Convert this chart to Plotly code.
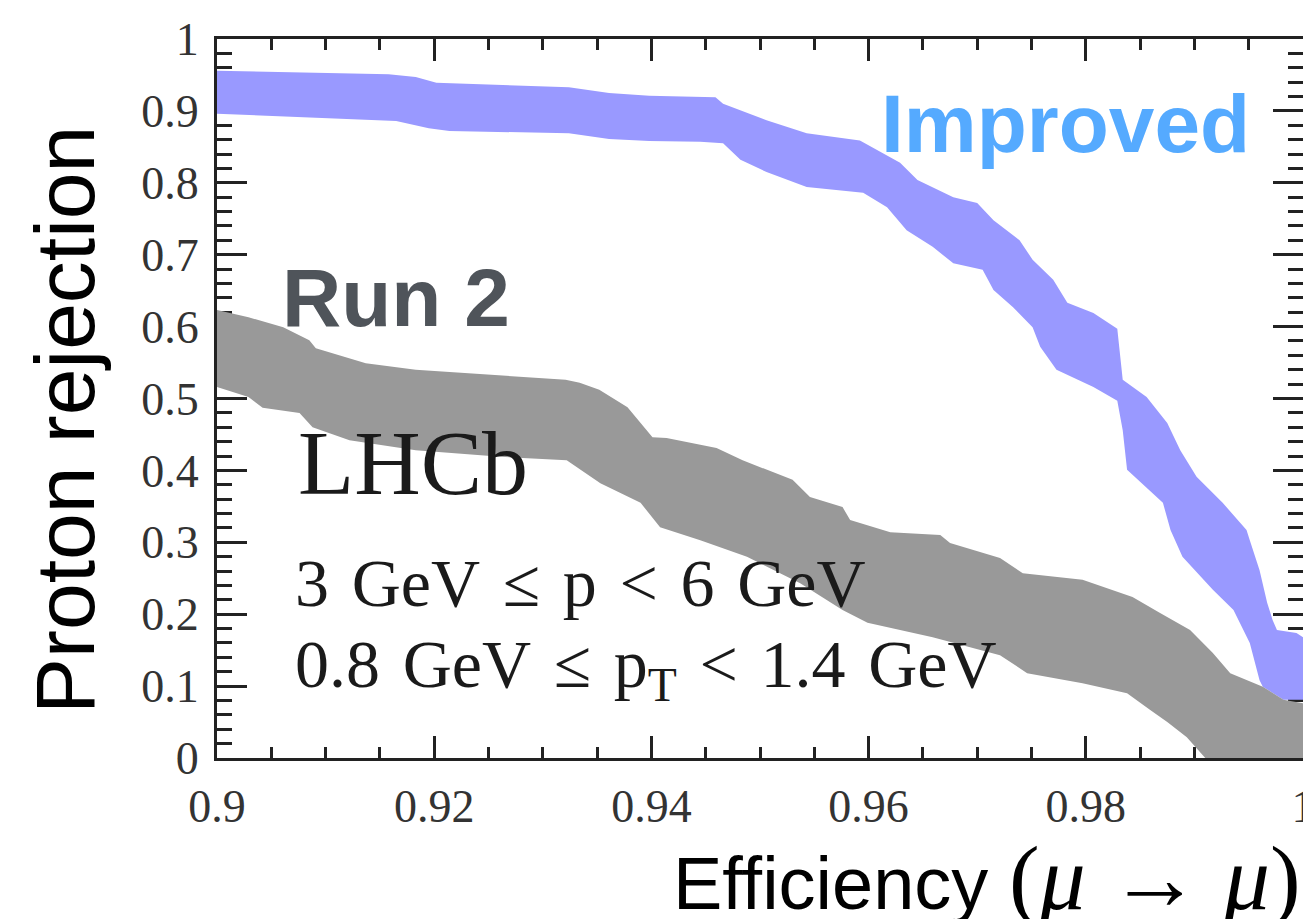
import plotly.graph_objects as go

# ---------------- data ----------------
improved_upper_x = [0.9000, 0.9158, 0.9183, 0.9202, 0.9324, 0.9361, 0.9398, 0.9459, 0.9466, 0.9475,
                    0.9506, 0.9543, 0.9592, 0.9629, 0.9645, 0.9678, 0.9700, 0.9715, 0.9739, 0.9751,
                    0.9770, 0.9783, 0.9807, 0.9829, 0.9834, 0.9856, 0.9875, 0.9887, 0.9902, 0.9926,
                    0.9948, 0.9951, 0.9960, 0.9967, 0.9972, 0.9976, 0.9994, 1.0000]
improved_upper_y = [0.956, 0.951, 0.947, 0.939, 0.933, 0.925, 0.921, 0.919, 0.910, 0.905,
                    0.887, 0.869, 0.859, 0.828, 0.804, 0.780, 0.772, 0.748, 0.720, 0.693,
                    0.665, 0.633, 0.619, 0.597, 0.526, 0.502, 0.466, 0.428, 0.391, 0.355,
                    0.317, 0.303, 0.261, 0.216, 0.192, 0.178, 0.174, 0.168]

improved_lower_x = [0.9000, 0.9165, 0.9195, 0.9214, 0.9324, 0.9361, 0.9398, 0.9445, 0.9466, 0.9482,
                    0.9506, 0.9543, 0.9595, 0.9617, 0.9635, 0.9659, 0.9678, 0.9705, 0.9715, 0.9733,
                    0.9751, 0.9758, 0.9773, 0.9807, 0.9829, 0.9834, 0.9838, 0.9871, 0.9878, 0.9889,
                    0.9917, 0.9936, 0.9951, 0.9960, 0.9963, 0.9982, 1.0000]
improved_lower_y = [0.896, 0.886, 0.876, 0.872, 0.869, 0.861, 0.858, 0.857, 0.855, 0.832,
                    0.815, 0.794, 0.786, 0.766, 0.734, 0.711, 0.688, 0.679, 0.651, 0.627,
                    0.599, 0.572, 0.540, 0.516, 0.497, 0.456, 0.401, 0.355, 0.317, 0.280,
                    0.234, 0.206, 0.160, 0.108, 0.099, 0.081, 0.081]

run2_upper_x = [0.9000, 0.9029, 0.9061, 0.9085, 0.9091, 0.9137, 0.9183, 0.9275, 0.9321, 0.9334,
                0.9352, 0.9378, 0.9401, 0.9414, 0.9460, 0.9484, 0.9530, 0.9546, 0.9576, 0.9583,
                0.9620, 0.9666, 0.9675, 0.9721, 0.9742, 0.9797, 0.9843, 0.9868, 0.9896, 0.9917,
                0.9933, 0.9963, 0.9982, 1.0000]
run2_upper_y = [0.623, 0.613, 0.599, 0.581, 0.570, 0.549, 0.540, 0.530, 0.526, 0.522,
                0.512, 0.488, 0.446, 0.445, 0.431, 0.414, 0.387, 0.363, 0.349, 0.331,
                0.314, 0.310, 0.299, 0.278, 0.257, 0.248, 0.224, 0.202, 0.178, 0.146,
                0.118, 0.099, 0.081, 0.076]

run2_lower_x = [0.9000, 0.9029, 0.9042, 0.9076, 0.9088, 0.9122, 0.9183, 0.9261, 0.9322, 0.9353,
                0.9390, 0.9408, 0.9445, 0.9488, 0.9537, 0.9576, 0.9599, 0.9659, 0.9721, 0.9746,
                0.9797, 0.9838, 0.9859, 0.9875, 0.9893, 0.9910, 0.9915, 1.0000]
run2_lower_y = [0.516, 0.502, 0.487, 0.480, 0.460, 0.442, 0.428, 0.419, 0.414, 0.382,
                0.355, 0.321, 0.303, 0.280, 0.243, 0.206, 0.188, 0.168, 0.143, 0.118,
                0.104, 0.090, 0.067, 0.050, 0.029, 0.000, -0.010, -0.010]

x_tickvals = [0.90, 0.92, 0.94, 0.96, 0.98, 1.00]
x_ticktext = ["0.9", "0.92", "0.94", "0.96", "0.98", "1"]
y_tickvals = [0.0, 0.1, 0.2, 0.3, 0.4, 0.5, 0.6, 0.7, 0.8, 0.9, 1.0]
y_ticktext = ["0", "0.1", "0.2", "0.3", "0.4", "0.5", "0.6", "0.7", "0.8", "0.9", "1"]

# ---------------- figure ----------------
fig = go.Figure()

def band(ux, uy, lx, ly, color):
    xs = list(ux) + list(reversed(lx))
    ys = list(uy) + list(reversed(ly))
    return go.Scatter(x=xs, y=ys, mode="lines", fill="toself", fillcolor=color,
                      line=dict(color=color, width=0), hoverinfo="skip", showlegend=False)

fig.add_trace(band(improved_upper_x, improved_upper_y, improved_lower_x, improved_lower_y, "#9999ff"))
fig.add_trace(band(run2_upper_x, run2_upper_y, run2_lower_x, run2_lower_y, "#999999"))

serif = "Liberation Serif"
sans = "Liberation Sans"
axcol = "#222222"

common = dict(showgrid=False, zeroline=False, showline=True, linewidth=3, linecolor=axcol,
              mirror="allticks", ticks="inside", tickwidth=3, tickcolor=axcol, automargin=False,
              tickfont=dict(family=serif, size=46, color="#333333"), layer="below traces")

fig.update_xaxes(range=[0.9, 1.0], tickvals=x_tickvals, ticktext=x_ticktext, ticklen=22,
                 minor=dict(dtick=0.005, tick0=0.9, ticks="inside", ticklen=11, tickwidth=3, tickcolor=axcol),
                 ticklabelstandoff=6, ticklabeloverflow="allow", **common)
fig.update_yaxes(range=[0, 1], tickvals=y_tickvals, ticktext=y_ticktext, ticklen=30,
                 minor=dict(dtick=0.02, tick0=0, ticks="inside", ticklen=15, tickwidth=3, tickcolor=axcol),
                 ticklabelstandoff=6, **common)

sp = "\u2004"  # slightly wider spaces, as in the reference typesetting
annotations = [
    dict(text="<b>Improved</b>", x=0.9953, y=0.882, xref="x", yref="y", xanchor="right", yanchor="middle",
         showarrow=False, font=dict(family=sans, size=82, color="#55aaff")),
    dict(text="<b>Run 2</b>", x=0.9058, y=0.640, xref="x", yref="y", xanchor="left", yanchor="middle",
         showarrow=False, font=dict(family=sans, size=82, color="#4f545a")),
    dict(text="LHCb", x=0.9073, y=0.410, xref="x", yref="y", xanchor="left", yanchor="middle",
         showarrow=False, font=dict(family=serif, size=92, color="#1a1a1a")),
    dict(text=f"3{sp}GeV{sp}≤{sp}p{sp}<{sp}6{sp}GeV", x=0.9070, y=0.243, xref="x", yref="y",
         xanchor="left", yanchor="middle",
         showarrow=False, font=dict(family=serif, size=68, color="#1a1a1a")),
    dict(text=f"0.8{sp}GeV{sp}≤{sp}p<sub>T</sub>{sp}<{sp}1.4{sp}GeV", x=0.9070, y=0.124, xref="x", yref="y",
         xanchor="left", yanchor="middle", showarrow=False, font=dict(family=serif, size=68, color="#1a1a1a")),
    dict(text="Proton rejection", x=-0.14, y=0.47, xref="paper", yref="paper", xanchor="center",
         yanchor="middle", textangle=-90, showarrow=False, font=dict(family=sans, size=84, color="#000000")),
    dict(text="Efficiency <span style='font-family:Liberation Serif;font-size:92px'>(<i>μ</i> → <i>μ</i>)</span>",
         x=1.0, y=-0.167, xref="paper", yref="paper", xanchor="right", yanchor="middle",
         showarrow=False, font=dict(family=sans, size=74, color="#000000")),
]

fig.update_layout(width=1303, height=919, margin=dict(l=217, r=0, t=39, b=161, autoexpand=False),
                  paper_bgcolor="white", plot_bgcolor="white", showlegend=False,
                  annotations=annotations, hovermode=False)

fig.write_html("out.html", config={"displayModeBar": False})
